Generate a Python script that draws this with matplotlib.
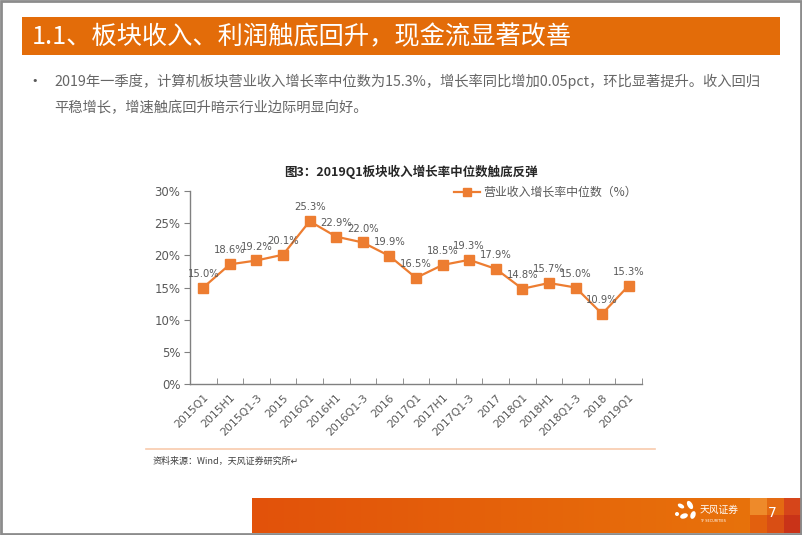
import numpy as np
import matplotlib
matplotlib.use('Agg')
import matplotlib.pyplot as plt
from matplotlib.patches import Rectangle, Ellipse
from matplotlib.colors import LinearSegmentedColormap

plt.rcParams['font.family'] = ['DejaVu Sans', 'Noto Sans CJK SC']
CJK = ['Noto Sans CJK SC', 'DejaVu Sans']

# --- data ---
periods = ['2015Q1', '2015H1', '2015Q1-3', '2015', '2016Q1', '2016H1', '2016Q1-3',
           '2016', '2017Q1', '2017H1', '2017Q1-3', '2017', '2018Q1', '2018H1',
           '2018Q1-3', '2018', '2019Q1']
growth = [15.0, 18.6, 19.2, 20.1, 25.3, 22.9, 22.0, 19.9, 16.5, 18.5, 19.3,
          17.9, 14.8, 15.7, 15.0, 10.9, 15.3]
y_ticks = [0, 5, 10, 15, 20, 25, 30]

page_title = '1.1、板块收入、利润触底回升，现金流显著改善'
bullet_lines = ['2019年一季度，计算机板块营业收入增长率中位数为15.3%，增长率同比增加0.05pct，环比显著提升。收入回归',
                '平稳增长，增速触底回升暗示行业边际明显向好。']
chart_title = '图3：2019Q1板块收入增长率中位数触底反弹'
legend_label = '营业收入增长率中位数（%）'
source_note = '资料来源：Wind，天风证券研究所↵'

ORANGE = '#ED7D31'
GRAY = '#595959'
W, H = 802, 535

fig = plt.figure(figsize=(W / 100, H / 100), dpi=100, facecolor='white')

# page decoration layer in pixel coordinates
bg = fig.add_axes([0, 0, 1, 1])
bg.set_xlim(0, W)
bg.set_ylim(H, 0)
bg.axis('off')

# title bar
bg.add_patch(Rectangle((22, 17), 758, 38, color='#E36C09', lw=0))
bg.text(32, 37, page_title, color='white', fontsize=18.2, va='center', ha='left',
        family=CJK)

# bullet text
bg.text(31, 81, '•', color=GRAY, fontsize=8, va='center', ha='left')
for i, line in enumerate(bullet_lines):
    bg.text(54, 81 + i * 27, line, color='#666666', fontsize=10.3, va='center',
            ha='left', family=CJK)

# chart title
bg.text(411, 172, chart_title, color='#262626', fontsize=9, fontweight='bold',
        va='center', ha='center', family=CJK)

# separator and source
bg.plot([146, 655], [449, 449], color='#F8CBAD', lw=1.2)
bg.text(153, 461, source_note, color='#404040', fontsize=6.5, va='center',
        ha='left', family=CJK)

# footer bar with gradient
grad = np.linspace(0, 1, 256).reshape(1, -1)
cmap = LinearSegmentedColormap.from_list('foot', ['#E2520A', '#E8720A'])
bg.imshow(grad, cmap=cmap, aspect='auto', extent=(252, 750, 533, 498), zorder=1)
tiles = [(750, 498, '#EE8A2A'), (767, 498, '#E46A12'), (784, 498, '#D6451A'),
         (750, 515, '#E2600E'), (767, 515, '#D94E14'), (784, 515, '#C93318')]
for tx, ty, tc in tiles:
    bg.add_patch(Rectangle((tx, ty), 17, 18, color=tc, lw=0, zorder=2))
bg.text(772, 513, '7', color='white', fontsize=10, va='center', ha='center', zorder=3)
# logo
for cx, cy, w, h, a in [(681, 506, 7, 4, 30), (690, 505, 5, 9, -30), (684, 516, 8, 5, -20),
                        (693, 515, 5, 8, 20), (677, 514, 4, 4, 0)]:
    bg.add_patch(Ellipse((cx, cy), w, h, angle=a, color='white', lw=0, zorder=3))
bg.text(700, 510, '天风证券', color='white', fontsize=7, va='center', ha='left',
        family=CJK, zorder=3)
bg.text(700, 521, 'TF SECURITIES', color='white', fontsize=2.5, va='center',
        ha='left', zorder=3)

# outer border
bg.add_patch(Rectangle((1, 1), W - 2, H - 2, fill=False, ec='#8C8C8C', lw=2, zorder=5))

# --- chart ---
ax = fig.add_axes([190 / W, (H - 384) / H, 452 / W, 193 / H])
ax.set_facecolor('none')
x = np.arange(len(periods))
ax.plot(x, growth, color=ORANGE, lw=1.6, marker='s', markersize=6.5,
        markerfacecolor=ORANGE, markeredgecolor=ORANGE, label=legend_label)
for xi, v in zip(x, growth):
    ax.annotate(f'{v:.1f}%', (xi, v), xytext=(0, 10), textcoords='offset points',
                ha='center', va='center', fontsize=7.2, color=GRAY)

ax.set_xlim(-0.5, len(periods) - 0.5)
ax.set_ylim(0, 30)
ax.set_yticks(y_ticks)
ax.set_yticklabels([f'{t}%' for t in y_ticks])
ax.set_xticks(x)
ax.set_xticklabels(periods, rotation=45, ha='right', rotation_mode='anchor')
ax.set_xticks(np.arange(-0.5, len(periods)), minor=True)
ax.tick_params(axis='x', which='major', length=0, pad=6, labelsize=7.8, labelcolor=GRAY)
ax.tick_params(axis='x', which='minor', length=4, direction='in', color='#808080')
ax.tick_params(axis='y', length=4, direction='out', color='#808080',
               labelsize=8.5, labelcolor=GRAY, pad=3)
for s in ['top', 'right']:
    ax.spines[s].set_visible(False)
for s in ['left', 'bottom']:
    ax.spines[s].set_color('#808080')
    ax.spines[s].set_linewidth(1.0)

leg = ax.legend(loc='upper right', bbox_to_anchor=(1.0, 1.05), frameon=False,
                prop={'family': CJK, 'size': 8.6}, handlelength=2.2,
                handletextpad=0.3, markerscale=0.9, borderaxespad=0)
for t in leg.get_texts():
    t.set_color(GRAY)

fig.savefig('out.png', dpi=100, facecolor='white')
